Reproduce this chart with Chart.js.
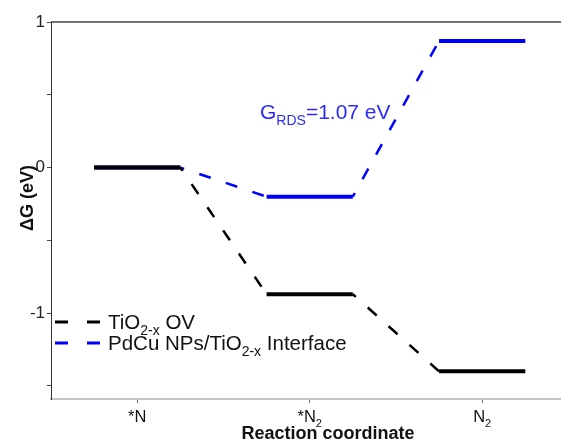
<!DOCTYPE html>
<html>
<head>
<meta charset="utf-8">
<script src="https://cdn.jsdelivr.net/npm/chart.js@4/dist/chart.umd.min.js"></script>
<style>
  body { margin: 0; background: #fff; }
</style>
</head>
<body>
<canvas id="energy" width="561" height="443"></canvas>
<script>
// reaction steps (text, subscript)
const stepLabels = [['*N', ''], ['*N', '2'], ['N', '2']];
// free energy of each step, eV
const ovEnergy = [0, -0.87, -1.40];
const interfaceEnergy = [0, -0.20, 0.87];
const seriesNames = [['TiO', '2-x', ' OV'], ['PdCu NPs/TiO', '2-x', ' Interface']];
const yTicks = [-1.5, -1, -0.5, 0, 0.5, 1];
const xTicks = [0, 1, 2];

const FONT = '"Liberation Sans", Arial, sans-serif';

function levels(energy) {
    const pts = [];
    energy.forEach(function (e, i) {
        pts.push({ x: i - 0.25, y: e }, { x: i + 0.25, y: e }, { x: i + 0.25, y: null });
    });
    return pts;
}

function links(energy) {
    const pts = [];
    for (let i = 0; i < energy.length - 1; i++) {
        pts.push({ x: i + 0.25, y: energy[i] }, { x: i + 0.75, y: energy[i + 1] }, { x: i + 0.75, y: null });
    }
    return pts;
}

// text with one subscript piece: [main, sub, rest]
function drawRich(ctx, parts, x, y, size, color, align) {
    const subSize = Math.round(size * 0.68);
    ctx.save();
    ctx.fillStyle = color;
    ctx.textBaseline = 'alphabetic';
    ctx.textAlign = 'left';
    ctx.font = size + 'px ' + FONT;
    const w0 = ctx.measureText(parts[0]).width;
    const w2 = ctx.measureText(parts[2] || '').width;
    ctx.font = subSize + 'px ' + FONT;
    const w1 = ctx.measureText(parts[1] || '').width;
    let cx = x;
    if (align === 'center') cx = x - (w0 + w1 + w2) / 2;
    ctx.font = size + 'px ' + FONT;
    ctx.fillText(parts[0], cx, y);
    ctx.font = subSize + 'px ' + FONT;
    ctx.fillText(parts[1] || '', cx + w0, y + size * 0.3);
    ctx.font = size + 'px ' + FONT;
    ctx.fillText(parts[2] || '', cx + w0 + w1, y);
    ctx.restore();
}

const extras = {
    id: 'extras',
    afterDraw(chart) {
        const ctx = chart.ctx;
        const area = chart.chartArea;
        const xs = chart.scales.x;

        // top frame line
        ctx.save();
        ctx.strokeStyle = '#444';
        ctx.lineWidth = 1.5;
        ctx.beginPath();
        ctx.moveTo(area.left, area.top);
        ctx.lineTo(area.right, area.top);
        ctx.stroke();
        ctx.restore();

        // x tick labels
        xTicks.forEach(function (v) {
            drawRich(ctx, [stepLabels[v][0], stepLabels[v][1], ''], xs.getPixelForValue(v), 422, 16.5, '#111', 'center');
        });

        // axis titles
        ctx.save();
        ctx.fillStyle = '#111';
        ctx.font = 'bold 18px ' + FONT;
        ctx.textAlign = 'center';
        ctx.textBaseline = 'alphabetic';
        ctx.fillText('Reaction coordinate', 328, 439);
        ctx.translate(33, 198);
        ctx.rotate(-Math.PI / 2);
        ctx.fillText('\u0394G (eV)', 0, 0);
        ctx.restore();

        // legend
        const colors = ['#000', '#0000ff'];
        const rows = [322, 343];
        rows.forEach(function (ry, i) {
            ctx.save();
            ctx.strokeStyle = colors[i];
            ctx.lineWidth = 3;
            ctx.beginPath();
            ctx.moveTo(55, ry); ctx.lineTo(68, ry);
            ctx.moveTo(87, ry); ctx.lineTo(100, ry);
            ctx.stroke();
            ctx.restore();
            drawRich(ctx, seriesNames[i], 108, ry + 7, 20.5, '#111', 'left');
        });

        // rate determining step note
        drawRich(ctx, ['G', 'RDS', '=1.07 eV'], 260, 119, 21, '#2a2aff', 'left');
    }
};

const ctx = document.getElementById('energy').getContext('2d');
const chart = new Chart(ctx, {
    type: 'line',
    data: {
        datasets: [
            {
                data: levels(ovEnergy),
                borderColor: '#000',
                borderWidth: 4,
                pointRadius: 0
            },
            {
                data: links(ovEnergy),
                borderColor: '#000',
                borderWidth: 2.5,
                borderDash: [12, 16],
                borderDashOffset: 8,
                pointRadius: 0
            },
            {
                data: levels(interfaceEnergy),
                borderColor: '#0000ff',
                borderWidth: 4,
                pointRadius: 0
            },
            {
                data: links(interfaceEnergy),
                borderColor: '#0000ff',
                borderWidth: 2.5,
                borderDash: [12, 16],
                borderDashOffset: 8,
                pointRadius: 0
            }
        ]
    },
    options: {
        responsive: false,
        animation: false,
        spanGaps: false,
        layout: { padding: { top: 22, right: 0, left: 0, bottom: 0 } },
        plugins: {
            legend: { display: false },
            tooltip: { enabled: false }
        },
        scales: {
            x: {
                type: 'linear',
                min: -0.5,
                max: 2.457,
                afterBuildTicks: function (scale) {
                    scale.ticks = xTicks.map(function (v) { return { value: v }; });
                },
                afterFit: function (scale) { scale.height = 44; },
                ticks: { callback: function () { return ''; } },
                grid: { drawOnChartArea: false, tickLength: 4, color: '#666' },
                border: { color: '#c4c4c4', width: 2 }
            },
            y: {
                min: -1.59,
                max: 1,
                afterBuildTicks: function (scale) {
                    scale.ticks = yTicks.map(function (v) { return { value: v }; });
                },
                afterFit: function (scale) { scale.width = 51; },
                ticks: {
                    font: { family: FONT, size: 17 },
                    color: '#222',
                    padding: 2,
                    callback: function (v) { return Number.isInteger(v) ? String(v) : ''; }
                },
                grid: { drawOnChartArea: false, tickLength: 4, color: '#444' },
                border: { color: '#333', width: 1 }
            }
        }
    },
    plugins: [extras]
});
</script>
</body>
</html>
